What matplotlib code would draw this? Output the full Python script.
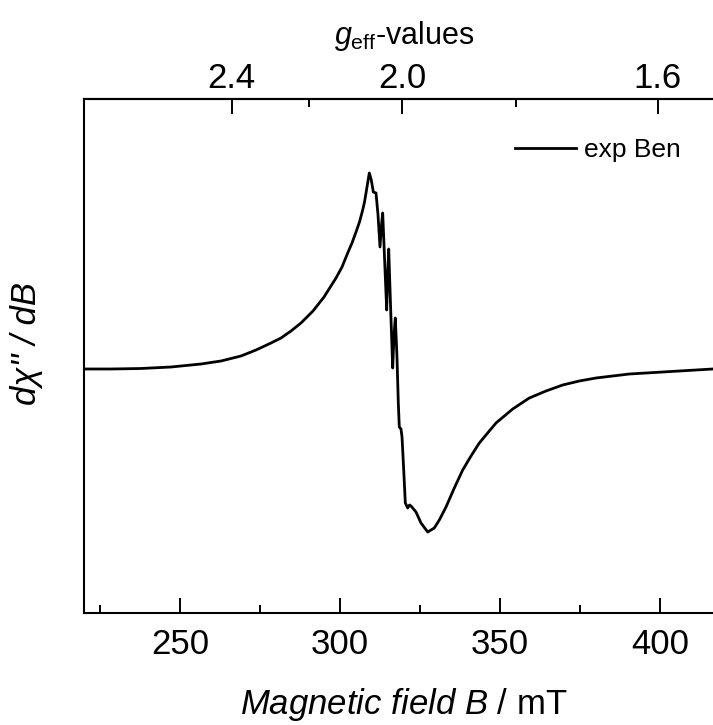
import matplotlib
matplotlib.use("Agg")
import matplotlib.pyplot as plt

plt.rcParams['font.family'] = ['Liberation Sans', 'DejaVu Sans']
plt.rcParams['mathtext.fontset'] = 'custom'
plt.rcParams['mathtext.rm'] = 'Liberation Sans'
plt.rcParams['mathtext.it'] = 'Liberation Sans:italic'

# field (mT) and signal (arb. units)
field = [220.31, 228.44, 237.81, 247.19, 256.56, 262.81, 269.06, 273.75, 278.44, 281.56,
         284.69, 287.81, 291.56, 295.0, 298.75, 300.63, 302.41, 303.75, 305.0, 306.09,
         307.09, 307.66, 308.13, 308.69, 309.16, 309.78, 310.41, 311.25, 311.88, 312.5,
         312.97, 313.34, 313.97, 314.59, 314.91, 315.22, 315.84, 316.47, 316.88, 317.28,
         317.81, 318.22, 318.53, 319.06, 319.38, 319.91, 320.41, 321.16, 321.72, 322.19,
         323.75, 325.31, 327.41, 329.47, 331.03, 333.13, 335.72, 338.34, 340.94, 343.53,
         348.75, 353.97, 359.16, 364.38, 369.59, 374.78, 380.0, 390.41, 400.84, 411.25,
         416.47]
signal = [0, 0, 0.5, 2, 5, 8, 13, 19, 26, 31,
          38, 46, 58, 72, 91, 102, 116, 126, 137, 147,
          159, 167, 176, 187, 196, 189, 177, 176, 154, 122,
          144, 156, 107, 59, 94, 120, 59, 1, 34, 51,
          12, -34, -58, -60, -68, -101, -134, -139, -136, -137,
          -143, -154, -163, -159, -151, -138, -119, -101, -87, -74,
          -54, -40, -29, -22, -16, -12, -9, -5, -3, -1,
          0]

b_ticks = [250, 300, 350, 400]
b_minor = [225, 275, 325, 375]
g_ticks = [2.4, 2.0, 1.6]
g_minor = [2.2, 1.8]
hnu = 638.8  # g*B in mT


def b2g(b):
    return hnu / b


def g2b(g):
    return hnu / g


fig = plt.figure(figsize=(7.13, 7.25), dpi=100)
ax = fig.add_axes([84/713, 112/725, 640/713, 514/725])

ax.plot(field, signal, color='black', lw=2.0, label='exp Ben')
ax.set_xlim(220, 420)
ax.set_ylim(-244, 270)

ax.set_xticks(b_ticks)
ax.set_xticks(b_minor, minor=True)
ax.set_yticks([])
ax.tick_params(axis='x', which='major', direction='in', length=11, width=1.4,
               labelsize=25, pad=11, top=False)
ax.tick_params(axis='x', which='minor', direction='in', length=5.5, width=1.4, top=False)
for s in ax.spines.values():
    s.set_linewidth(1.5)
ax.spines['right'].set_visible(False)

ax.set_xlabel(r'$\mathit{Magnetic\ field\ B}$ / mT', fontsize=25, labelpad=18)
ax.set_ylabel("dχ'' / dB", fontsize=25, style='italic')
ax.yaxis.set_label_coords(-0.064, 0.525)

sec = ax.secondary_xaxis('top', functions=(b2g, g2b))
sec.set_xticks(g_ticks)
sec.set_xticks(g_minor, minor=True)
sec.set_xticklabels(['2.4', '2.0', '1.6'])
sec.tick_params(axis='x', which='major', direction='in', length=11, width=1.4,
                labelsize=25, pad=3)
sec.tick_params(axis='x', which='minor', direction='in', length=5.5, width=1.4)
sec.spines['top'].set_linewidth(1.5)
sec.set_xlabel(r'$g_{\mathrm{eff}}$-values', fontsize=22, labelpad=13)

ax.legend(loc='center left', bbox_to_anchor=(515/713, 1 - 150/725),
          bbox_transform=fig.transFigure, frameon=False, fontsize=19,
          handlelength=2.3, handletextpad=0.3, borderpad=0, borderaxespad=0)

fig.savefig('out.png', dpi=100)
